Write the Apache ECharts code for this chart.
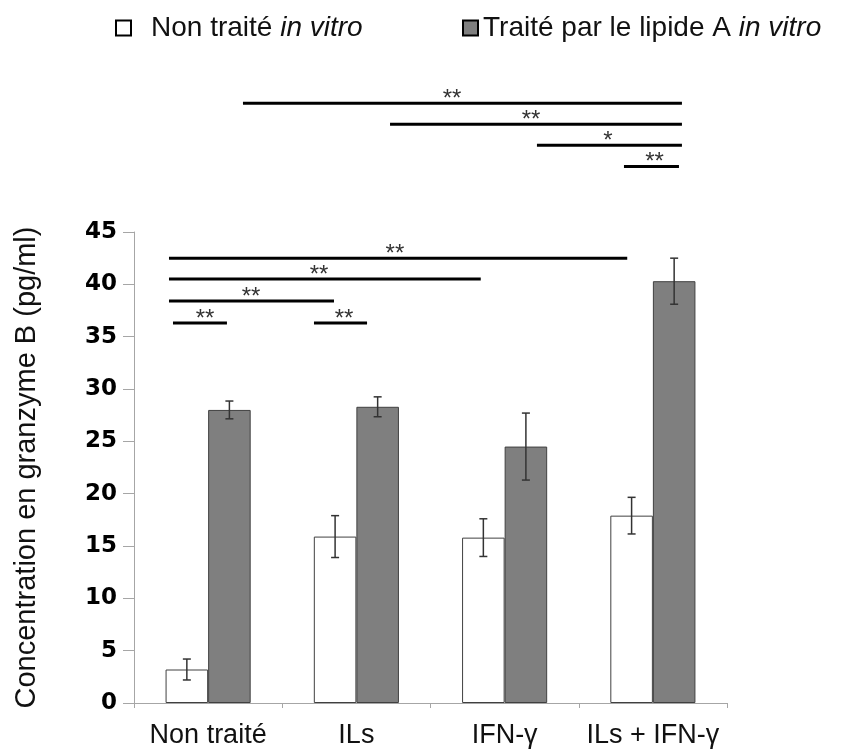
<!DOCTYPE html>
<html>
<head>
<meta charset="utf-8">
<script src="https://cdn.jsdelivr.net/npm/echarts@6/dist/echarts.min.js"></script>
<style>
  html, body { margin: 0; padding: 0; background: #ffffff; }
  #chart { width: 845px; height: 753px; }
</style>
</head>
<body>
<div id="chart"></div>
<script>
// ---- data ----
const categories = ['Non traité', 'ILs', 'IFN-γ', 'ILs + IFN-γ'];
const seriesNames = ['Non traité in vitro', 'Traité par le lipide A in vitro'];
const untreatedMeans = [3.2, 15.9, 15.8, 17.9];
const untreatedErrors = [1.0, 2.0, 1.8, 1.75];
const treatedMeans = [28.0, 28.3, 24.5, 40.3];
const treatedErrors = [0.85, 0.95, 3.2, 2.2];
const yTicks = { min: 0, max: 45, interval: 5 };
// significance brackets: [x start, x end, y level, label x] in axis units (category i spans i..i+1)
const sigStart = [0.236, 0.236, 0.236, 0.263, 1.214, 0.735, 1.727, 2.718, 3.305];
const sigEnd   = [3.327, 2.339, 1.349, 0.627, 1.572, 3.696, 3.696, 3.696, 3.676];
const sigLevel = [42.5, 40.5, 38.4, 36.3, 36.3, 57.3, 55.3, 53.3, 51.25];
const sigLabelX = [1.76, 1.248, 0.789, 0.479, 1.417, 2.145, 2.678, 3.197, 3.511];
const sigLabels = ['**', '**', '**', '**', '**', '**', '**', '*', '**'];

const BAR_FRACTION = 0.287;

const chart = echarts.init(document.getElementById('chart'), null, { renderer: 'canvas' });

const errData = [];
untreatedMeans.forEach((m, i) => errData.push([i, m, untreatedErrors[i], 0]));
treatedMeans.forEach((m, i) => errData.push([i, m, treatedErrors[i], 1]));

const sigData = sigStart.map((s, i) => [s, sigEnd[i], sigLevel[i], sigLabelX[i]]);

const legendFormatter = name => {
  const base = name.replace(' in vitro', '');
  return base + ' {i|in vitro}';
};
const legendText = {
  fontFamily: 'Liberation Sans',
  fontSize: 28,
  color: '#111',
  rich: { i: { fontFamily: 'Liberation Sans', fontSize: 28, fontStyle: 'italic', color: '#111' } }
};

const option = {
  backgroundColor: '#ffffff',
  animation: false,
  legend: [
    {
      data: [seriesNames[0]],
      left: 115, top: 14, padding: 0,
      icon: 'rect', itemWidth: 15, itemHeight: 15,
      itemStyle: { borderColor: '#000', borderWidth: 2 },
      formatter: legendFormatter,
      textStyle: Object.assign({ padding: [0, 0, 0, 15] }, legendText)
    },
    {
      data: [seriesNames[1]],
      left: 462, top: 14, padding: 0,
      icon: 'rect', itemWidth: 15, itemHeight: 15,
      itemStyle: { borderColor: '#000', borderWidth: 2 },
      formatter: legendFormatter,
      textStyle: legendText
    }
  ],
  grid: { left: 134, right: 118, top: 232, bottom: 50, containLabel: false, outerBoundsMode: 'none' },
  xAxis: [
    {
      type: 'category',
      data: categories,
      axisLine: { lineStyle: { color: '#a6a6a6', width: 1 } },
      axisTick: { show: true, length: 5, lineStyle: { color: '#a6a6a6' } },
      axisLabel: { fontFamily: 'Liberation Sans', fontSize: 27, color: '#111', margin: 19,
                   interval: 0, hideOverlap: false },
      splitLine: { show: false }
    },
    {
      type: 'value', min: 0, max: 4, show: false
    }
  ],
  yAxis: {
    type: 'value',
    min: yTicks.min, max: yTicks.max, interval: yTicks.interval,
    name: 'Concentration en granzyme B (pg/ml)',
    nameLocation: 'middle',
    nameGap: 93,
    nameTextStyle: { fontFamily: 'Liberation Sans', fontSize: 29, color: '#111' },
    axisLine: { show: true, lineStyle: { color: '#a6a6a6', width: 1 } },
    axisTick: { show: true, length: 11, lineStyle: { color: '#a6a6a6' } },
    axisLabel: { fontFamily: 'DejaVu Sans', fontWeight: 'bold', fontSize: 23, color: '#000', margin: 17 },
    splitLine: { show: false }
  },
  series: [
    {
      name: seriesNames[0],
      type: 'bar',
      data: untreatedMeans,
      barWidth: (BAR_FRACTION * 100) + '%',
      barGap: '0%',
      itemStyle: { color: '#ffffff', borderColor: '#404040', borderWidth: 1 }
    },
    {
      name: seriesNames[1],
      type: 'bar',
      data: treatedMeans,
      barWidth: (BAR_FRACTION * 100) + '%',
      barGap: '0%',
      itemStyle: { color: '#7f7f7f', borderColor: '#404040', borderWidth: 1 }
    },
    {
      name: 'errors',
      type: 'custom',
      data: errData,
      z: 10,
      renderItem: (params, api) => {
        const ci = api.value(0), m = api.value(1), e = api.value(2), side = api.value(3);
        const c = api.coord([ci, m]);
        const bw = api.size([1, 0])[0] * BAR_FRACTION;
        const x = c[0] + (side ? bw / 2 : -bw / 2);
        const top = api.coord([ci, m + e])[1];
        const bot = api.coord([ci, m - e])[1];
        const cap = 4;
        const st = { stroke: '#333', lineWidth: 1.5 };
        return {
          type: 'group',
          children: [
            { type: 'line', shape: { x1: x, y1: top, x2: x, y2: bot }, style: st },
            { type: 'line', shape: { x1: x - cap, y1: top, x2: x + cap, y2: top }, style: st },
            { type: 'line', shape: { x1: x - cap, y1: bot, x2: x + cap, y2: bot }, style: st }
          ]
        };
      }
    },
    {
      name: 'significance',
      type: 'custom',
      xAxisIndex: 1,
      yAxisIndex: 0,
      clip: false,
      data: sigData,
      z: 10,
      renderItem: (params, api) => {
        const p1 = api.coord([api.value(0), api.value(2)]);
        const p2 = api.coord([api.value(1), api.value(2)]);
        const pl = api.coord([api.value(3), api.value(2)]);
        return {
          type: 'group',
          children: [
            { type: 'line', shape: { x1: p1[0], y1: p1[1], x2: p2[0], y2: p2[1] },
              style: { stroke: '#000', lineWidth: 3 } },
            { type: 'text', x: pl[0], y: pl[1] - 4,
              style: { text: sigLabels[params.dataIndex], fontFamily: 'Liberation Sans', fontSize: 24,
                       fill: '#333', align: 'center', verticalAlign: 'middle' } }
          ]
        };
      }
    }
  ]
};

chart.setOption(option);
</script>
</body>
</html>
